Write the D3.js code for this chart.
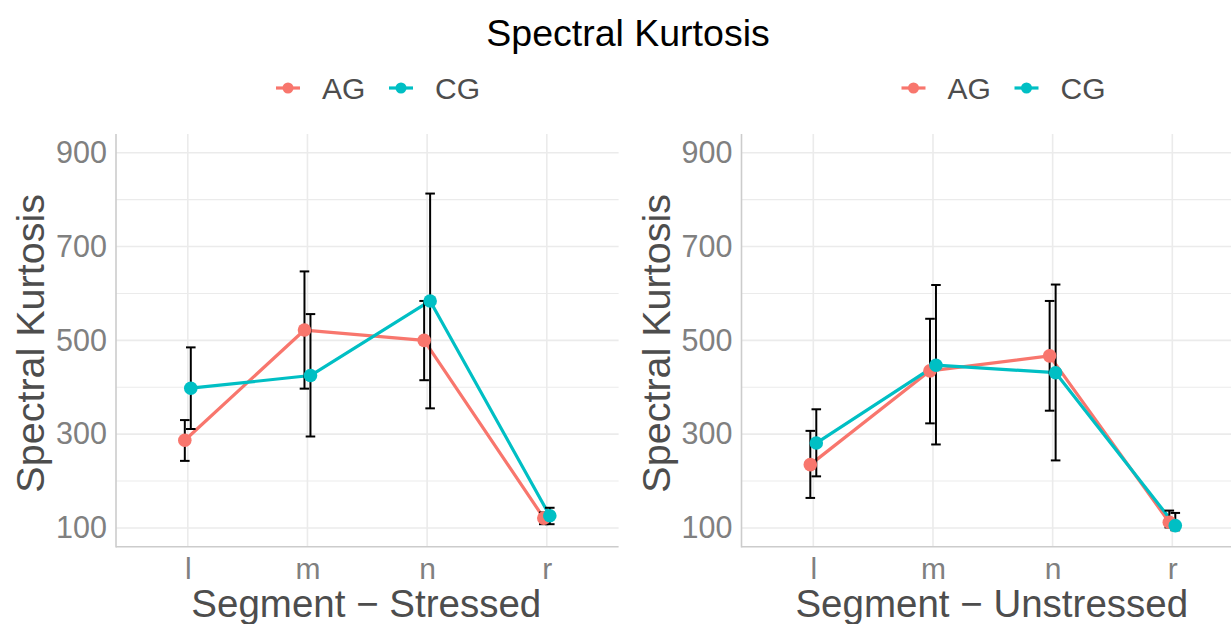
<!DOCTYPE html>
<html>
<head>
<meta charset="utf-8">
<script src="https://cdn.jsdelivr.net/npm/d3@7"></script>
<style>
  html, body { margin: 0; padding: 0; background: #ffffff; }
  svg { display: block; font-family: "Liberation Sans", Arial, Helvetica, sans-serif; }
</style>
</head>
<body>
<svg id="chart" width="1231" height="624"></svg>
<script>
// ---- data ----
const segments = ["l", "m", "n", "r"];
const groups = ["AG", "CG"];
const groupColors = ["#F8766D", "#00BFC4"];
const yTicks = [100, 300, 500, 700, 900];
const yMinor = [200, 400, 600, 800];

const stressedAG     = [287, 522, 500, 121];
const stressedAGLow  = [243, 397, 415, 108];
const stressedAGHigh = [330, 647, 584, 133];
const stressedCG     = [398, 425, 584, 126];
const stressedCGLow  = [311, 295, 355, 108];
const stressedCGHigh = [485, 556, 813, 143];

const unstressedAG     = [235, 435, 467, 112];
const unstressedAGLow  = [164, 323, 350, 101];
const unstressedAGHigh = [307, 546, 584, 137];
const unstressedCG     = [281, 447, 431, 105];
const unstressedCGLow  = [210, 278, 244, 95];
const unstressedCGHigh = [353, 618, 619, 132];

const panels = [
  { xTitle: "Segment \u2212 Stressed", left: 116,
    series: [
      { mean: stressedAG, low: stressedAGLow, high: stressedAGHigh },
      { mean: stressedCG, low: stressedCGLow, high: stressedCGHigh }
    ] },
  { xTitle: "Segment \u2212 Unstressed", left: 741.5,
    series: [
      { mean: unstressedAG, low: unstressedAGLow, high: unstressedAGHigh },
      { mean: unstressedCG, low: unstressedCGLow, high: unstressedCGHigh }
    ] }
];

// ---- layout ----
const svg = d3.select("#chart");
svg.append("rect").attr("width", 1231).attr("height", 624).attr("fill", "#ffffff");

const panelTop = 134, panelBottom = 546.7, panelW = 502.6;
const gridColor = "#EBEBEB";

svg.append("text")
  .attr("x", 628).attr("y", 46)
  .attr("text-anchor", "middle")
  .attr("font-size", 37.5)
  .attr("fill", "#000000")
  .text("Spectral Kurtosis");

panels.forEach((p) => {
  const g = svg.append("g").attr("transform", `translate(${p.left},0)`);
  const x = d3.scalePoint().domain(segments).range([0, panelW]).padding(0.6);
  const y = d3.scaleLinear().domain([60, 940]).range([panelBottom, panelTop]);
  const step = x.step();
  const dodge = step * 0.025;
  const cap = step * 0.04;

  // minor gridlines
  g.selectAll("line.minor").data(yMinor).enter().append("line")
    .attr("x1", 0).attr("x2", panelW)
    .attr("y1", d => y(d)).attr("y2", d => y(d))
    .attr("stroke", gridColor).attr("stroke-width", 1.1);
  // major gridlines
  g.selectAll("line.major").data(yTicks).enter().append("line")
    .attr("x1", 0).attr("x2", panelW)
    .attr("y1", d => y(d)).attr("y2", d => y(d))
    .attr("stroke", gridColor).attr("stroke-width", 1.6);
  g.selectAll("line.vmajor").data(segments).enter().append("line")
    .attr("x1", d => x(d)).attr("x2", d => x(d))
    .attr("y1", panelTop).attr("y2", panelBottom)
    .attr("stroke", gridColor).attr("stroke-width", 1.6);

  // axis lines
  g.append("line").attr("x1", 0).attr("x2", 0).attr("y1", panelTop).attr("y2", panelBottom + 0.8)
    .attr("stroke", "#CCCCCC").attr("stroke-width", 1.6);
  g.append("line").attr("x1", 0).attr("x2", panelW).attr("y1", panelBottom).attr("y2", panelBottom)
    .attr("stroke", "#CCCCCC").attr("stroke-width", 1.6);

  // y tick labels
  const yAxis = d3.axisLeft(y).tickValues(yTicks).tickSize(0).tickPadding(9);
  const ya = g.append("g").call(yAxis);
  ya.select(".domain").remove();
  ya.selectAll("text").attr("font-size", 30.5).attr("fill", "#808080")
    .attr("font-family", "Liberation Sans, Arial, sans-serif");

  // x tick labels
  const xAxis = d3.axisBottom(x).tickSize(0).tickPadding(11);
  const xa = g.append("g").attr("transform", `translate(0,${panelBottom})`).call(xAxis);
  xa.select(".domain").remove();
  xa.selectAll("text").attr("font-size", 30).attr("fill", "#808080")
    .attr("font-family", "Liberation Sans, Arial, sans-serif");

  // axis titles
  g.append("text")
    .attr("x", panelW / 2 - 1).attr("y", 617)
    .attr("text-anchor", "middle").attr("font-size", 38.5).attr("fill", "#4D4D4D")
    .text(p.xTitle);
  g.append("text")
    .attr("transform", `translate(-72,${(panelTop + panelBottom) / 2 + 3}) rotate(-90)`)
    .attr("text-anchor", "middle").attr("font-size", 39.5).attr("fill", "#4D4D4D")
    .text("Spectral Kurtosis");

  // lines
  const line = d3.line().x(d => d[0]).y(d => d[1]);
  p.series.forEach((s, gi) => {
    const off = gi === 0 ? -dodge : dodge;
    const pts = segments.map((c, i) => [x(c) + off, y(s.mean[i])]);
    g.append("path").attr("d", line(pts)).attr("fill", "none")
      .attr("stroke", groupColors[gi]).attr("stroke-width", 3.2)
      .attr("stroke-linejoin", "round");
  });
  // error bars
  p.series.forEach((s, gi) => {
    const off = gi === 0 ? -dodge : dodge;
    const eb = g.append("g").attr("stroke", "#000000").attr("stroke-width", 2);
    segments.forEach((c, i) => {
      const cx = x(c) + off;
      eb.append("line").attr("x1", cx).attr("x2", cx).attr("y1", y(s.low[i])).attr("y2", y(s.high[i]));
      eb.append("line").attr("x1", cx - cap).attr("x2", cx + cap).attr("y1", y(s.low[i])).attr("y2", y(s.low[i]));
      eb.append("line").attr("x1", cx - cap).attr("x2", cx + cap).attr("y1", y(s.high[i])).attr("y2", y(s.high[i]));
    });
  });
  // points
  p.series.forEach((s, gi) => {
    const off = gi === 0 ? -dodge : dodge;
    g.selectAll(null).data(segments).enter().append("circle")
      .attr("cx", c => x(c) + off).attr("cy", (c, i) => y(s.mean[i]))
      .attr("r", 6.8).attr("fill", groupColors[gi]);
  });

  // legend
  const lg = g.append("g").attr("transform", `translate(0,88)`);
  const keyX = [172, 285];
  groups.forEach((name, gi) => {
    lg.append("line").attr("x1", keyX[gi] - 12).attr("x2", keyX[gi] + 12)
      .attr("y1", 0).attr("y2", 0).attr("stroke", groupColors[gi]).attr("stroke-width", 3.2);
    lg.append("circle").attr("cx", keyX[gi]).attr("cy", 0).attr("r", 5.5).attr("fill", groupColors[gi]);
    lg.append("text").attr("x", keyX[gi] + 34).attr("y", 11)
      .attr("font-size", 30).attr("fill", "#4D4D4D").text(name);
  });
});
</script>
</body>
</html>
